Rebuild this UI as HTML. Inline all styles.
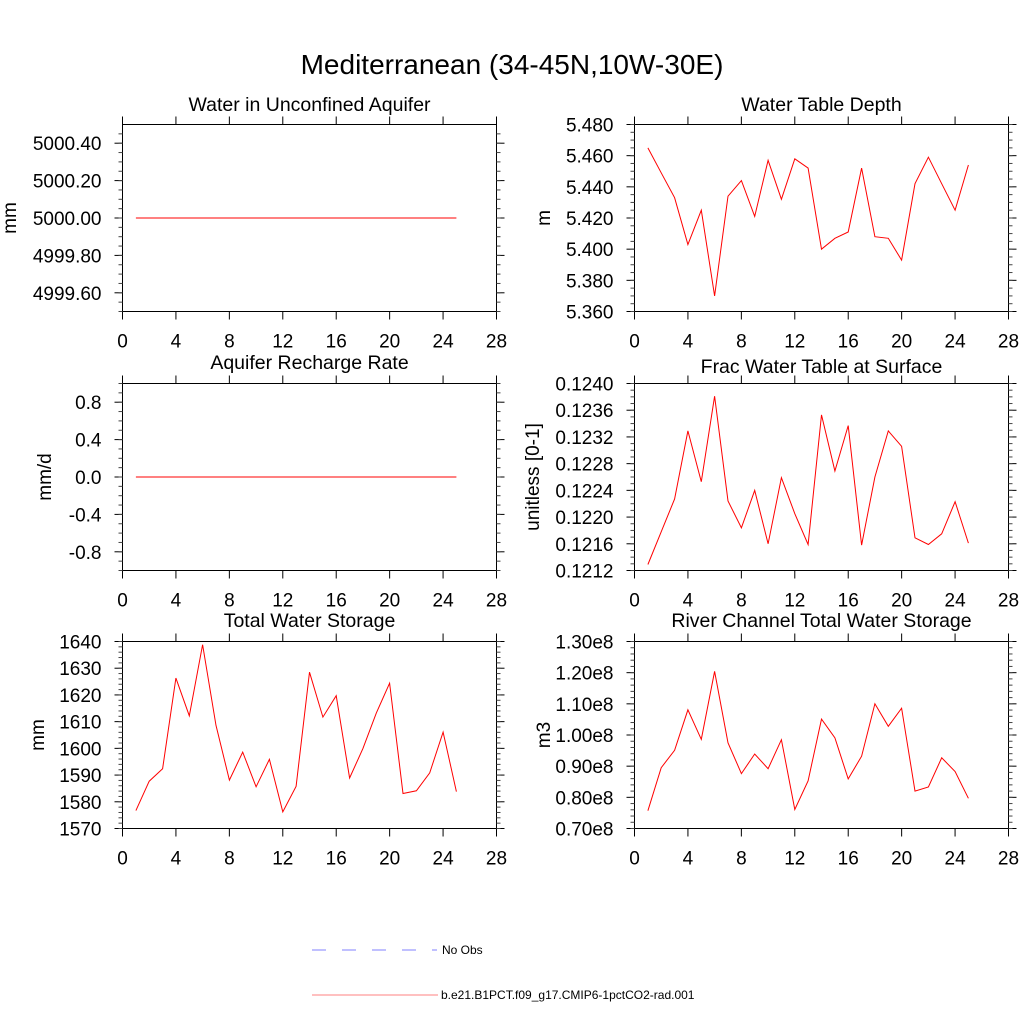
<!DOCTYPE html>
<html><head><meta charset="utf-8"><style>
html,body{margin:0;padding:0;background:#fff;}
svg{display:block;font-family:"Liberation Sans",sans-serif;}
</style></head><body>
<svg id="chart" width="1024" height="1024" viewBox="0 0 1024 1024">
<text x="512" y="74" font-size="28" text-anchor="middle">Mediterranean (34-45N,10W-30E)</text>
<g>
<line x1="312" y1="950" x2="437" y2="950" stroke="#8080ff" stroke-width="1" stroke-dasharray="14,16"/>
<text x="442" y="954" font-size="12">No Obs</text>
<line x1="312" y1="995" x2="438" y2="995" stroke="#ff8080" stroke-width="1"/>
<text x="441" y="999" font-size="12">b.e21.B1PCT.f09_g17.CMIP6-1pctCO2-rad.001</text>
</g>
</svg>
<script>
const years = [1,2,3,4,5,6,7,8,9,10,11,12,13,14,15,16,17,18,19,20,21,22,23,24,25];
const xTicks = [0,4,8,12,16,20,24,28];
const aquiferWater = [5000,5000,5000,5000,5000,5000,5000,5000,5000,5000,5000,5000,5000,5000,5000,5000,5000,5000,5000,5000,5000,5000,5000,5000,5000];
const aquiferTicks = ["4999.60","4999.80","5000.00","5000.20","5000.40"];
const rechargeRate = [0,0,0,0,0,0,0,0,0,0,0,0,0,0,0,0,0,0,0,0,0,0,0,0,0];
const rechargeTicks = ["-0.8","-0.4","0.0","0.4","0.8"];
const waterTableDepth = [5.465,5.449,5.433,5.403,5.425,5.370,5.434,5.444,5.421,5.457,5.432,5.458,5.452,5.400,5.407,5.411,5.452,5.408,5.407,5.393,5.442,5.459,5.442,5.425,5.454];
const waterTableTicks = ["5.360","5.380","5.400","5.420","5.440","5.460","5.480"];
const fracWaterTable = [0.12129,0.12178,0.12227,0.12329,0.12253,0.12381,0.12224,0.12184,0.1224,0.1216,0.12259,0.12205,0.12159,0.12353,0.12269,0.12337,0.12158,0.1226,0.12329,0.12306,0.12169,0.12159,0.12175,0.12223,0.12161];
const fracTicks = ["0.1212","0.1216","0.1220","0.1224","0.1228","0.1232","0.1236","0.1240"];
const totalWaterStorage = [1576.7,1587.7,1592.4,1626.3,1612.2,1638.8,1608.6,1588.1,1598.6,1585.6,1595.9,1576.2,1585.8,1628.5,1611.7,1619.7,1588.9,1599.9,1613.2,1624.4,1583.1,1584.1,1590.8,1606.1,1583.8];
const twsTicks = ["1570","1580","1590","1600","1610","1620","1630","1640"];
const riverStorage = [0.757e8,0.895e8,0.951e8,1.081e8,0.986e8,1.204e8,0.975e8,0.876e8,0.939e8,0.892e8,0.985e8,0.761e8,0.853e8,1.051e8,0.991e8,0.859e8,0.932e8,1.100e8,1.028e8,1.086e8,0.820e8,0.833e8,0.927e8,0.883e8,0.797e8];
const riverTicks = ["0.70e8","0.80e8","0.90e8","1.00e8","1.10e8","1.20e8","1.30e8"];

const NS="http://www.w3.org/2000/svg";
const svg=document.getElementById('chart');
function mk(tag,attrs,parent){const e=document.createElementNS(NS,tag);for(const k in attrs)e.setAttribute(k,attrs[k]);parent.appendChild(e);return e;}

function panel(o){
  const g=mk('g',{},svg);
  
  
  const X=v=>o.x0+(v-0)/(28-0)*(o.x1-o.x0);
  const Y=v=>o.y1-(v-o.ymin)/(o.ymax-o.ymin)*(o.y1-o.y0);
  const fr=mk('rect',{x:o.x0,y:o.y0,width:o.x1-o.x0,height:o.y1-o.y0,fill:'none',stroke:'#000','stroke-width':1},g);
  
  
  xTicks.forEach(t=>{
    const x=X(t);
    mk('line',{x1:x,y1:o.y1,x2:x,y2:o.y1+8,stroke:'#000'},g);
    mk('line',{x1:x,y1:o.y0,x2:x,y2:o.y0-8,stroke:'#000'},g);
    const tx=mk('text',{x:x,y:o.y1+36,'font-size':19,'text-anchor':'middle'},g);
    
    
    tx.textContent=String(t);
  });
  const step=(o.ymaxT-o.yminT)/(o.ticks.length-1);
  o.ticks.forEach((lab,i)=>{
    const v=o.yminT+i*step;const y=Y(v);
    mk('line',{x1:o.x0,y1:y,x2:o.x0-8,y2:y,stroke:'#000'},g);
    mk('line',{x1:o.x1,y1:y,x2:o.x1+8,y2:y,stroke:'#000'},g);
    const tx=mk('text',{x:o.x0-21,y:y+7,'font-size':19,'text-anchor':'end'},g);
    
    
    tx.textContent=lab;
  });
  const mstep=step/o.minor;
  for(let v=o.ymin;v<=o.ymax+1e-12;v+=mstep){
    const y=Y(v);
    mk('line',{x1:o.x0,y1:y,x2:o.x0-4,y2:y,stroke:'#444'},g);
    mk('line',{x1:o.x1,y1:y,x2:o.x1+4,y2:y,stroke:'#444'},g);
  }
  const ti=mk('text',{x:(o.x0+o.x1)/2,y:o.ty,'font-size':19.5,'text-anchor':'middle'},g);
  
  
  ti.textContent=o.title;
  const yt=mk('text',{x:o.yx,y:(o.y0+o.y1)/2,'font-size':19,'text-anchor':'middle',transform:`rotate(-90 ${o.yx} ${(o.y0+o.y1)/2})`},g);
  
  
  yt.textContent=o.ylab;
  const pts=years.map((yr,i)=>X(yr).toFixed(1)+','+Y(o.data[i]).toFixed(1)).join(' ');
  const pl=mk('polyline',{points:pts,fill:'none',stroke:'#ff0000','stroke-width':1},g);
  
  
}
const L={x0:122.5,x1:496.5}, R={x0:634.5,x1:1008.5};
const r1={y0:124.5,y1:311.5}, r2={y0:383.5,y1:570.5}, r3={y0:641.5,y1:828.5};
panel({name:'panel-aquifer-water',...L,...r1,ymin:4999.5,ymax:5000.5,yminT:4999.6,ymaxT:5000.4,minor:4,ticks:aquiferTicks,data:aquiferWater,title:'Water in Unconfined Aquifer',ty:111,ylab:'mm',yx:16});
panel({name:'panel-recharge-rate',...L,...r2,ymin:-1,ymax:1,yminT:-0.8,ymaxT:0.8,minor:4,ticks:rechargeTicks,data:rechargeRate,title:'Aquifer Recharge Rate',ty:369,ylab:'mm/d',yx:51});
panel({name:'panel-total-water-storage',...L,...r3,ymin:1570,ymax:1640,yminT:1570,ymaxT:1640,minor:5,ticks:twsTicks,data:totalWaterStorage,title:'Total Water Storage',ty:627,ylab:'mm',yx:44});
panel({name:'panel-water-table-depth',...R,...r1,ymin:5.36,ymax:5.48,yminT:5.36,ymaxT:5.48,minor:4,ticks:waterTableTicks,data:waterTableDepth,title:'Water Table Depth',ty:111,ylab:'m',yx:550});
panel({name:'panel-frac-water-table',...R,...r2,ymin:0.1212,ymax:0.1240,yminT:0.1212,ymaxT:0.1240,minor:4,ticks:fracTicks,data:fracWaterTable,title:'Frac Water Table at Surface',ty:373,ylab:'unitless [0-1]',yx:539});
panel({name:'panel-river-storage',...R,...r3,ymin:0.70e8,ymax:1.30e8,yminT:0.70e8,ymaxT:1.30e8,minor:5,ticks:riverTicks,data:riverStorage,title:'River Channel Total Water Storage',ty:627,ylab:'m3',yx:550});
</script>
</body></html>
